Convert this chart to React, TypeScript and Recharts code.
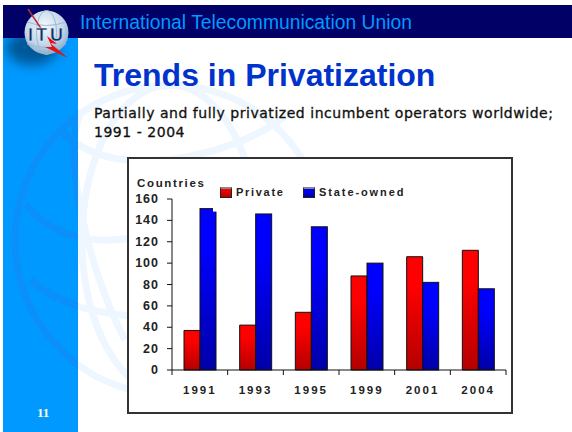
import React from 'react';
import { BarChart, Bar, XAxis, YAxis, Legend } from 'recharts';

const years = ['1991', '1993', '1995', '1999', '2001', '2004'];
const privateOps = [37, 42, 54, 88, 106, 112];
const stateOwned = [151, 146, 134, 100, 82, 76];
const yTicks = [0, 20, 40, 60, 80, 100, 120, 140, 160];

const seriesNames = ['Private', 'State-owned'];

const tableData = years.map((year, i) => ({
  year,
  [seriesNames[0]]: privateOps[i],
  [seriesNames[1]]: stateOwned[i],
}));

const ARIAL = '"Liberation Sans", Arial, sans-serif';
const CHART_W = 386;
const CHART_H = 257;
const MARGIN = { top: 42, right: 7, bottom: 14, left: 5 };
const Y_AXIS_W = 40;
const BAND = (CHART_W - MARGIN.left - MARGIN.right - Y_AXIS_W) / years.length;

const labelStyle = { fontFamily: ARIAL, fontWeight: 700, fontSize: 11.5, fill: '#222' };

// year label plus the tick marks, which sit between the categories
const YearTick = ({ x, y, payload, index }: any) => (
  <g>
    <line x1={x - BAND / 2} x2={x - BAND / 2} y1={y} y2={y + 5} stroke="#111" />
    {index === years.length - 1 && <line x1={x + BAND / 2} x2={x + BAND / 2} y1={y} y2={y + 5} stroke="#111" />}
    <text x={x} y={y + 24} textAnchor="middle" letterSpacing={2} {...labelStyle}>
      {payload.value}
    </text>
  </g>
);

const CountTick = ({ x, y, payload }: any) => (
  <text x={x} y={y + 4} textAnchor="end" letterSpacing={1} {...labelStyle} fontSize={12.5}>
    {payload.value}
  </text>
);

// the first state-owned column has a small bite out of its top right corner
const StateBar = ({ x, y, width, height, index }: any) => (
  <g>
    <rect x={x} y={y} width={width} height={height} fill="url(#stateFill)" stroke="#111" />
    {index === 0 && <rect x={x + width - 3} y={y - 1} width={4} height={4} fill="#fff" />}
  </g>
);

const LegendRow = () => (
  <div style={{ position: 'relative', width: 200, height: 14, fontFamily: ARIAL, fontWeight: 700, fontSize: 11, color: '#222' }}>
    {seriesNames.map((name, i) => (
      <div key={name} style={{ position: 'absolute', left: i === 0 ? 0 : 83, top: 0, display: 'flex', alignItems: 'center', whiteSpace: 'nowrap' }}>
        <span
          style={{
            width: 10,
            height: 8,
            marginRight: 4,
            border: '1px solid #222',
            borderTop: '2px solid #888',
            background: i === 0 ? 'linear-gradient(#ff0000, #b80000)' : 'linear-gradient(#0000ff, #0000b0)',
          }}
        />
        <span style={{ letterSpacing: i === 0 ? 1.7 : 1.9 }}>{name}</span>
      </div>
    ))}
  </div>
);

// faint globe behind the slide, the same strokes are darker over the side panel
const GlobeLines = ({ stroke }: { stroke: string }) => (
  <g fill="none" stroke={stroke} strokeWidth={7}>
    <circle cx={170} cy={240} r={155} />
    <ellipse cx={170} cy={240} rx={88} ry={155} />
    <path d="M26 205 C50 235 90 245 130 238 C180 228 260 225 330 205" />
    <path d="M30 280 C60 305 90 312 130 316 C200 325 270 320 320 290" />
    <path d="M60 130 C90 160 130 165 180 158 C230 150 270 130 290 112" />
    <path d="M82 110 C60 150 88 270 125 340" />
  </g>
);

const Backdrop = () => (
  <svg width={572} height={432} style={{ position: 'absolute', left: 0, top: 0 }}>
    <defs>
      <clipPath id="panelClip">
        <rect x={3} y={38} width={75} height={394} />
      </clipPath>
      <clipPath id="pageClip">
        <rect x={78} y={38} width={494} height={394} />
      </clipPath>
      <radialGradient id="globeFill" cx="45%" cy="35%" r="70%">
        <stop offset="0%" stopColor="#f4f8fc" />
        <stop offset="60%" stopColor="#c4d8ea" />
        <stop offset="100%" stopColor="#7fa3c6" />
      </radialGradient>
      <filter id="soft" x="-50%" y="-50%" width="200%" height="200%">
        <feGaussianBlur stdDeviation="6" />
      </filter>
    </defs>
    <rect x={3} y={5} width={569} height={33} fill="#000066" />
    <rect x={3} y={38} width={75} height={394} fill="#0099ff" />
    <g clipPath="url(#panelClip)">
      <GlobeLines stroke="#0b8ff9" />
    </g>
    <g clipPath="url(#pageClip)">
      <GlobeLines stroke="#eef6ff" />
    </g>
    {/* ITU logo */}
    <g clipPath="url(#panelClip)">
      <ellipse cx={32} cy={48} rx={26} ry={17} fill="#00477f" opacity={0.8} filter="url(#soft)" />
    </g>
    <circle cx={46.5} cy={32.5} r={22} fill="url(#globeFill)" />
    <g fill="none" stroke="#9db9d3" strokeWidth={1}>
      <ellipse cx={46.5} cy={32.5} rx={10} ry={22} />
      <path d="M27 22 Q46 29 66 22" />
      <path d="M27 44 Q46 51 66 44" />
    </g>
    <path d="M28 9 L42 30" stroke="#b03040" strokeWidth={1.5} />
    <path d="M47 36 L57 44 L50 43 L68 58 L45 47 L52 47 Z" fill="#e81010" />
    <text x={47} y={41} textAnchor="middle" fontFamily={ARIAL} fontWeight={700} fontSize={18} letterSpacing={3} fill="#0b2c66" stroke="#eef4fa" strokeWidth={0.4}>
      ITU
    </text>
  </svg>
);

const App = () => (
  <div style={{ position: 'absolute', left: 0, top: 0, width: 572, height: 432, background: '#fff', overflow: 'hidden' }}>
    <Backdrop />
    <div style={{ position: 'absolute', left: 80, top: 12, fontFamily: ARIAL, fontSize: 19.3, lineHeight: '22px', color: '#0099ff', whiteSpace: 'nowrap' }}>
      International Telecommunication Union
    </div>
    <div style={{ position: 'absolute', left: 94, top: 56, fontFamily: ARIAL, fontWeight: 700, fontSize: 32, lineHeight: '38px', color: '#0033cc', whiteSpace: 'nowrap' }}>
      Trends in Privatization
    </div>
    <div style={{ position: 'absolute', left: 94, top: 104, fontFamily: '"DejaVu Sans", sans-serif', fontSize: 14, letterSpacing: 0.53, lineHeight: '19px', color: '#111', whiteSpace: 'nowrap', WebkitTextStroke: '0.3px #111' }}>
      Partially and fully privatized incumbent operators worldwide;
      <br />
      1991 - 2004
    </div>
    <div style={{ position: 'absolute', left: 37, top: 405, fontFamily: '"Liberation Serif", serif', fontWeight: 700, fontSize: 13, color: '#fff8d8' }}>11</div>

    <div style={{ position: 'absolute', left: 127, top: 157, width: CHART_W, height: CHART_H, boxSizing: 'border-box', border: '2px solid #333', background: '#fff' }} />
    <div style={{ position: 'absolute', left: 137, top: 177, fontFamily: ARIAL, fontWeight: 700, fontSize: 11.5, letterSpacing: 1.65, color: '#222', whiteSpace: 'nowrap' }}>
      Countries
    </div>
    <div style={{ position: 'absolute', left: 127, top: 157 }}>
      <BarChart width={CHART_W} height={CHART_H} data={tableData} margin={MARGIN} barSize={16} barGap={0}>
        <defs>
          <linearGradient id="privateFill" x1="0" y1="0" x2="0" y2="1">
            <stop offset="25%" stopColor="#ff0000" />
            <stop offset="100%" stopColor="#b40000" />
          </linearGradient>
          <linearGradient id="stateFill" x1="0" y1="0" x2="0" y2="1">
            <stop offset="25%" stopColor="#0000ff" />
            <stop offset="100%" stopColor="#0000a8" />
          </linearGradient>
        </defs>
        <XAxis dataKey="year" height={30} stroke="#111" tickLine={false} tickSize={0} tickMargin={0} tick={YearTick} interval={0} />
        <YAxis width={Y_AXIS_W} domain={[0, 160]} ticks={yTicks} stroke="#111" tickSize={5} tickMargin={8} tick={CountTick} interval={0} />
        <Legend
          layout="horizontal"
          verticalAlign="middle"
          content={LegendRow}
          wrapperStyle={{ left: 93, top: 29, width: 200, height: 14 }}
        />
        <Bar dataKey={seriesNames[0]} fill="url(#privateFill)" stroke="#111" isAnimationActive={false} />
        <Bar dataKey={seriesNames[1]} fill="url(#stateFill)" shape={StateBar} isAnimationActive={false} />
      </BarChart>
    </div>
  </div>
);

export default App;
